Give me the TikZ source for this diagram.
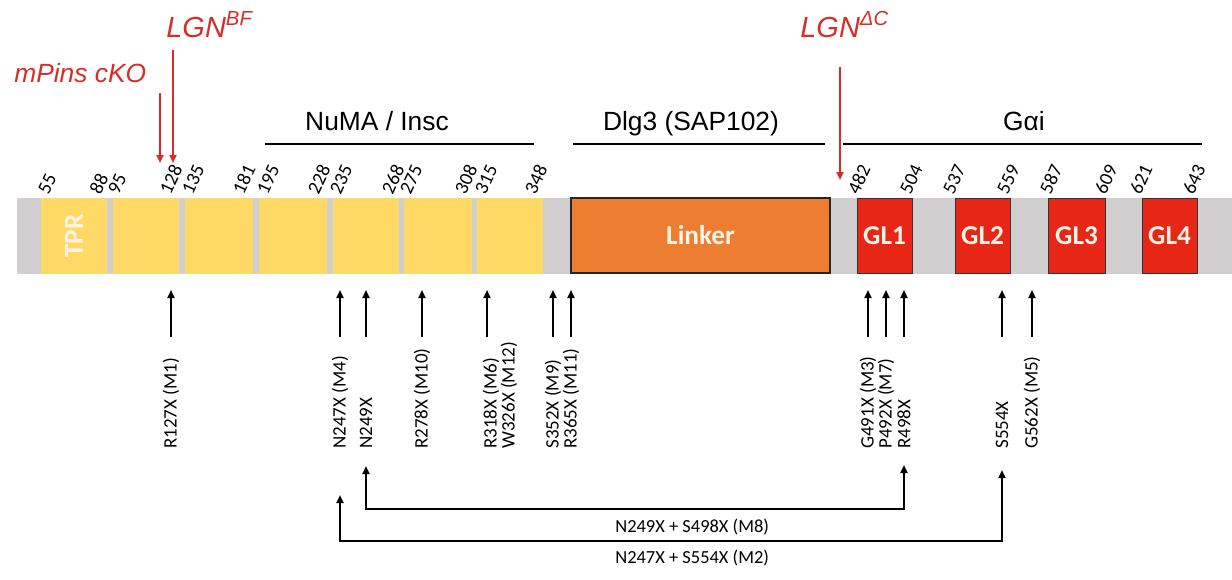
\documentclass[tikz,border=0pt]{standalone}
\usepackage{fontspec}
\setmainfont{Liberation Sans}
\newfontfamily\calib{Carlito}
\usetikzlibrary{arrows.meta}

\definecolor{bargray}{RGB}{208,206,206}
\definecolor{tprgold}{RGB}{255,217,102}
\definecolor{linkorange}{RGB}{237,125,49}
\definecolor{glred}{RGB}{232,38,22}
\definecolor{lgnred}{RGB}{214,45,40}
\definecolor{boxwhite}{RGB}{255,244,230}

\begin{document}
\begin{tikzpicture}[x=0.2mm, y=-0.2mm,
  ybox/.style={fill=tprgold, draw=none},
  gbox/.style={fill=glred, draw=black!80, line width=0.2mm},
  boxtext/.style={font=\calib\bfseries\fontsize{15.5}{18}\selectfont, text=boxwhite},
  resnum/.style={font=\calib\fontsize{11}{13}\selectfont, rotate=65, anchor=south west, inner sep=0pt},
  mutlabel/.style={font=\calib\fontsize{10.8}{10.3}\selectfont, rotate=90, anchor=west, inner sep=0pt, align=left},
  pairlabel/.style={font=\calib\fontsize{10.5}{12.5}\selectfont, anchor=base west, inner sep=0pt},
  heading/.style={font=\fontsize{15}{18}\selectfont, anchor=base, inner sep=0pt},
  redlabel/.style={font=\itshape\fontsize{15}{18}\selectfont, text=lgnred, anchor=base west, inner sep=0pt},
  redarrow/.style={draw=lgnred, line width=0.45mm, -{Triangle[length=1.6mm,width=1.4mm]}},
  mutarrow/.style={line width=0.38mm, -{Triangle[length=1.6mm,width=1.4mm]}},
  bracket/.style={line width=0.4mm, {Triangle[length=1.6mm,width=1.4mm]}-{Triangle[length=1.6mm,width=1.4mm]}}
]
\useasboundingbox (0,0) rectangle (1232,579);

% protein bar
\fill[bargray] (17,198) rectangle (1232,274);
\draw[ybox] (41,198) rectangle (107,274) node[midway, boxtext, rotate=90] (tpr) {TPR};
\draw[ybox] (113,198) rectangle (179,274);
\draw[ybox] (185,198) rectangle (253,274);
\draw[ybox] (259,198) rectangle (327,274);
\draw[ybox] (333,198) rectangle (399,274);
\draw[ybox] (404,198) rectangle (472,274);
\draw[ybox] (477,198) rectangle (543,274);
\draw[fill=linkorange, draw=black!85, line width=0.25mm] (571,198) rectangle (830,273) node[midway, boxtext] (linker) {Linker};
\draw[gbox] (857,198) rectangle (912,273) node[midway, boxtext] (gl1) {GL1};
\draw[gbox] (955,198) rectangle (1010,273) node[midway, boxtext] (gl2) {GL2};
\draw[gbox] (1048,198) rectangle (1105,273) node[midway, boxtext] (gl3) {GL3};
\draw[gbox] (1142,198) rectangle (1197,273) node[midway, boxtext] (gl4) {GL4};

% residue numbers
\node[resnum] (n55) at (49,196) {55};
\node[resnum] (n88) at (101,196) {88};
\node[resnum] (n95) at (119,196) {95};
\node[resnum] (n128) at (171,196) {128};
\node[resnum] (n135) at (193,196) {135};
\node[resnum] (n181) at (244,196) {181};
\node[resnum] (n195) at (268,196) {195};
\node[resnum] (n228) at (319,196) {228};
\node[resnum] (n235) at (341,196) {235};
\node[resnum] (n268) at (393,196) {268};
\node[resnum] (n275) at (411,196) {275};
\node[resnum] (n308) at (466,196) {308};
\node[resnum] (n315) at (486,196) {315};
\node[resnum] (n348) at (536,196) {348};
\node[resnum] (n482) at (859,196) {482};
\node[resnum] (n504) at (911,196) {504};
\node[resnum] (n537) at (954,196) {537};
\node[resnum] (n559) at (1008,196) {559};
\node[resnum] (n587) at (1051,196) {587};
\node[resnum] (n609) at (1106,196) {609};
\node[resnum] (n621) at (1141,196) {621};
\node[resnum] (n643) at (1194,196) {643};

% binding regions
\node[heading] (numa) at (377,130) {NuMA / Insc};
\node[heading] (dlg) at (691,130) {Dlg3 (SAP102)};
\node[heading] (gai) at (1024,130) {Gαi};
\draw[line width=0.3mm] (265,144) -- (534,144);
\draw[line width=0.3mm] (573,144) -- (825,144);
\draw[line width=0.3mm] (843,144) -- (1202,144);

% alleles
\node[redlabel] (cko) at (14,82) {mPins cKO};
\node[redlabel, font=\itshape\fontsize{16.5}{19}\selectfont] (lgnbf) at (166,37) {LGN\textsuperscript{BF}};
\node[redlabel, font=\itshape\fontsize{16.5}{19}\selectfont] (lgndc) at (800,37) {LGN\textsuperscript{ΔC}};
\coordinate (ckotop) at (160,93);
\coordinate (bftop) at (173,50);
\coordinate (dctop) at (840,67);
\draw[redarrow] (ckotop) -- ++(0,70);
\draw[redarrow] (bftop) -- ++(0,113);
\draw[redarrow] (dctop) -- ++(0,113);

% point mutations
\node[mutlabel] (m1) at (171,449) {R127X (M1)};
\node[mutlabel] (m4) at (340,449) {N247X (M4)};
\node[mutlabel] (m249) at (366,449) {N249X};
\node[mutlabel] (m10) at (422,449) {R278X (M10)};
\node[mutlabel] (m6) at (500,449) {R318X (M6)\\W326X (M12)};
\node[mutlabel] (m9) at (553,449) {S352X (M9)};
\node[mutlabel] (m11) at (571,449) {R365X (M11)};
\node[mutlabel] (m3) at (868,449) {G491X (M3)};
\node[mutlabel] (m7) at (886,449) {P492X (M7)};
\node[mutlabel] (m498) at (904,449) {R498X};
\node[mutlabel] (m554) at (1002,449) {S554X};
\node[mutlabel] (m5) at (1032,449) {G562X (M5)};

\coordinate (baserow) at (0,337);
\coordinate (tiprow) at (0,290);
\draw[mutarrow] (m1.east |- baserow) -- (m1.east |- tiprow);
\draw[mutarrow] (m4.east |- baserow) -- (m4.east |- tiprow);
\draw[mutarrow] (m249.east |- baserow) -- (m249.east |- tiprow);
\draw[mutarrow] (m10.east |- baserow) -- (m10.east |- tiprow);
\draw[mutarrow] ([xshift=-2.6mm]m6.east |- baserow) -- ([xshift=-2.6mm]m6.east |- tiprow);
\draw[mutarrow] (m9.east |- baserow) -- (m9.east |- tiprow);
\draw[mutarrow] (m11.east |- baserow) -- (m11.east |- tiprow);
\draw[mutarrow] (m3.east |- baserow) -- (m3.east |- tiprow);
\draw[mutarrow] (m7.east |- baserow) -- (m7.east |- tiprow);
\draw[mutarrow] (m498.east |- baserow) -- (m498.east |- tiprow);
\draw[mutarrow] (m554.east |- baserow) -- (m554.east |- tiprow);
\draw[mutarrow] (m5.east |- baserow) -- (m5.east |- tiprow);

% double mutants
\coordinate (m8row) at (0,509);
\coordinate (m2row) at (0,541);
\draw[bracket] ([yshift=-3.4mm]m249.west) -- (m249.west |- m8row) -- (m498.west |- m8row) -- ([yshift=-3.2mm]m498.west);
\draw[bracket] ([yshift=-9.2mm]m4.west) -- (m4.west |- m2row) -- (m554.west |- m2row) -- ([yshift=-4.2mm]m554.west);
\node[pairlabel] (m8) at (615,532) {N249X + S498X (M8)};
\node[pairlabel] (m2) at (615,563) {N247X + S554X (M2)};
\end{tikzpicture}
\end{document}
